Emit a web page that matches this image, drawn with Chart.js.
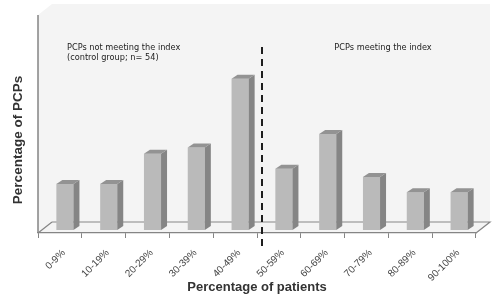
<!DOCTYPE html>
<html>
<head>
<meta charset="utf-8">
<script src="https://cdn.jsdelivr.net/npm/chart.js@4.4.0/dist/chart.umd.min.js"></script>
<style>
  html, body { margin: 0; padding: 0; background: #fff; }
</style>
</head>
<body>
<canvas id="pcpChart" width="497" height="304"></canvas>
<script>
// data
var categories = ["0-9%", "10-19%", "20-29%", "30-39%", "40-49%", "50-59%", "60-69%", "70-79%", "80-89%", "90-100%"];
var pcpPercent = [6.1, 6.1, 10.1, 10.9, 20, 8.1, 12.7, 7.0, 5.0, 5.0];
var yMax = 24.6;
var splitAfter = 4; // dashed line sits between 40-49% and 50-59%
var leftGroupText = ["PCPs not meeting the index", "(control group; n= 54)"];
var rightGroupText = "PCPs meeting the index";

var barFront = "#bababa";
var barSide = "#858585";
var barTop = "#939393";
var lineGray = "#858585";

// depth of the fake 3d box, and of each bar
var floorDx = 14, floorDy = -11;
var barShiftX = 5, barShiftY = -3;
var barDx = 6, barDy = -4;

var boxPlugin = {
    id: "box3d",
    beforeDraw: function (chart) {
        var ctx = chart.ctx;
        var a = chart.chartArea;
        var top = a.top - 43;
        ctx.save();
        // walls + floor
        ctx.fillStyle = "#f4f4f4";
        ctx.beginPath();
        ctx.moveTo(a.left, top - floorDy);
        ctx.lineTo(a.left + floorDx, top);
        ctx.lineTo(a.right + floorDx, top);
        ctx.lineTo(a.right + floorDx, a.bottom + floorDy);
        ctx.lineTo(a.right, a.bottom);
        ctx.lineTo(a.left, a.bottom);
        ctx.closePath();
        ctx.fill();

        ctx.strokeStyle = lineGray;
        ctx.lineWidth = 1.2;
        ctx.beginPath();
        ctx.moveTo(a.left + floorDx, a.bottom + floorDy);
        ctx.lineTo(a.right + floorDx, a.bottom + floorDy);
        ctx.lineTo(a.right, a.bottom);
        ctx.moveTo(a.left, a.bottom);
        ctx.lineTo(a.left + floorDx, a.bottom + floorDy);
        ctx.stroke();

        ctx.lineWidth = 1.5;
        ctx.beginPath();
        ctx.moveTo(a.left, top - floorDy);
        ctx.lineTo(a.left, a.bottom);
        ctx.stroke();
        ctx.restore();
    },
    beforeDatasetsDraw: function (chart) {
        chart.ctx.save();
        chart.ctx.translate(barShiftX, barShiftY);
    },
    afterDatasetsDraw: function (chart) {
        var ctx = chart.ctx;
        var meta = chart.getDatasetMeta(0);
        meta.data.forEach(function (bar) {
            var p = bar.getProps(["x", "y", "base", "width"], true);
            var l = p.x - p.width / 2;
            var r = p.x + p.width / 2;
            // side face
            ctx.fillStyle = barSide;
            ctx.beginPath();
            ctx.moveTo(r, p.y);
            ctx.lineTo(r + barDx, p.y + barDy);
            ctx.lineTo(r + barDx, p.base + barDy);
            ctx.lineTo(r, p.base);
            ctx.closePath();
            ctx.fill();
            // top face
            ctx.fillStyle = barTop;
            ctx.beginPath();
            ctx.moveTo(l, p.y);
            ctx.lineTo(l + barDx, p.y + barDy);
            ctx.lineTo(r + barDx, p.y + barDy);
            ctx.lineTo(r, p.y);
            ctx.closePath();
            ctx.fill();
        });
        ctx.restore();
    },
    afterDraw: function (chart) {
        var ctx = chart.ctx;
        var a = chart.chartArea;
        var x = chart.scales.x;
        var splitX = (x.getPixelForValue(splitAfter) + x.getPixelForValue(splitAfter + 1)) / 2 + barShiftX;
        ctx.save();
        ctx.strokeStyle = "#1e1e1e";
        ctx.lineWidth = 2;
        ctx.setLineDash([7, 5]);
        ctx.beginPath();
        ctx.moveTo(splitX, a.top);
        ctx.lineTo(splitX, a.bottom + 14);
        ctx.stroke();

        ctx.fillStyle = "#222";
        ctx.font = "8.2px 'DejaVu Sans'";
        ctx.textBaseline = "middle";
        ctx.textAlign = "left";
        ctx.fillText(leftGroupText[0], a.left + 29, a.top + 1);
        ctx.fillText(leftGroupText[1], a.left + 29, a.top + 11);
        ctx.textAlign = "center";
        ctx.fillText(rightGroupText, a.left + 345, a.top + 1);
        ctx.restore();
    }
};

var ctx = document.getElementById("pcpChart").getContext("2d");
var chart = new Chart(ctx, {
    type: "bar",
    data: {
        labels: categories,
        datasets: [{
            data: pcpPercent,
            backgroundColor: barFront,
            borderWidth: 0,
            categoryPercentage: 1,
            barPercentage: 0.39
        }]
    },
    options: {
        responsive: false,
        animation: false,
        devicePixelRatio: 1,
        layout: { padding: { top: 47, right: 21, bottom: 0, left: 0 } },
        plugins: { legend: { display: false }, tooltip: { enabled: false } },
        scales: {
            x: {
                afterFit: function (scale) { scale.height = 71; },
                grid: { drawOnChartArea: false, drawTicks: true, tickLength: 5, color: lineGray },
                border: { display: true, color: lineGray, width: 1.2 },
                ticks: {
                    minRotation: 45,
                    maxRotation: 45,
                    padding: 9,
                    labelOffset: 4,
                    color: "#444",
                    font: { family: "'Liberation Sans', Arial, sans-serif", size: 10 }
                },
                title: {
                    display: true,
                    text: "Percentage of patients",
                    color: "#333",
                    padding: { top: 0, bottom: 9 },
                    font: { family: "'Liberation Sans', Arial, sans-serif", size: 13, weight: "bold" }
                }
            },
            y: {
                min: 0,
                max: yMax,
                afterFit: function (scale) { scale.width = 38; },
                grid: { display: false },
                border: { display: false },
                ticks: { display: false },
                title: {
                    display: true,
                    text: "Percentage of PCPs",
                    color: "#333",
                    padding: { top: 10, bottom: 0 },
                    font: { family: "'Liberation Sans', Arial, sans-serif", size: 13.5, weight: "bold" }
                }
            }
        }
    },
    plugins: [boxPlugin]
});
</script>
</body>
</html>
